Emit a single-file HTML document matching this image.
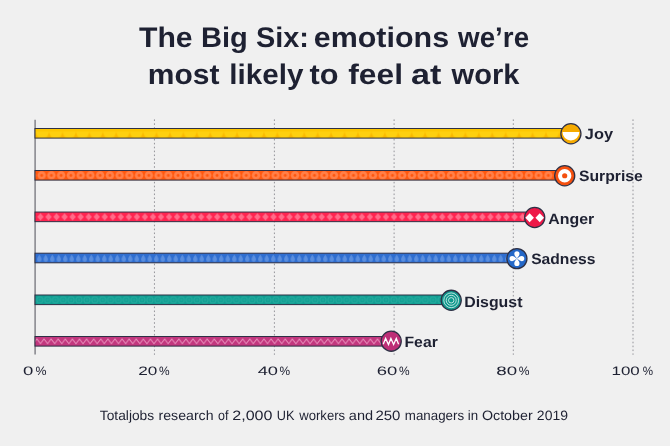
<!DOCTYPE html>
<html lang="en"><head><meta charset="utf-8"><title>The Big Six: emotions we’re most likely to feel at work</title>
<style>html,body{margin:0;padding:0;background:#f0f0f0;}svg{display:block;will-change:transform}text{font-family:"Liberation Sans",sans-serif;text-rendering:geometricPrecision}</style></head><body>
<svg width="670" height="446" viewBox="0 0 670 446">
<rect width="670" height="446" fill="#f0f0f0"/>
<defs>
<pattern id="p0" patternUnits="userSpaceOnUse" x="49.1" y="128.65" width="13.43" height="11"><path d="M0.2 2.7 A6.515 6.515 0 0 0 13.23 2.7 Z" fill="#ffd313" opacity="0.75"/><path d="M0 3.2 Q0.8 8 3.3 9.6 L0 9.6 Z" fill="#f5aa00" opacity="0.5"/><path d="M13.43 3.2 Q12.63 8 10.13 9.6 L13.43 9.6 Z" fill="#f5aa00" opacity="0.5"/></pattern>
<pattern id="p1" patternUnits="userSpaceOnUse" x="36.798" y="170" width="9.744" height="10.6"><circle cx="4.872" cy="5.3" r="4.2" fill="#ff8049"/><circle cx="4.872" cy="5.3" r="1.45" fill="#ff560c"/></pattern>
<pattern id="p2" patternUnits="userSpaceOnUse" x="36.462" y="211.6" width="8.035" height="10.6"><path d="M4.018 1.6 L7.218 5.25 L4.018 8.9 L0.817 5.25 Z" fill="#ff6c89"/></pattern>
<pattern id="p3" patternUnits="userSpaceOnUse" x="36.030" y="253.1" width="6.5" height="10.6"><path d="M3.25 1.5 C4.1 3.3 5.484999999999999 4.7 5.484999999999999 6.4 A2.235 2.235 0 0 1 1.0150000000000001 6.4 C1.0150000000000001 4.7 2.4 3.3 3.25 1.5 Z" fill="#5a8ede"/></pattern>
<pattern id="p4" patternUnits="userSpaceOnUse" x="35.795" y="294.7" width="7.87" height="10.6"><circle cx="3.935" cy="5.2" r="3.0" fill="none" stroke="#27ab9f" stroke-width="1.1"/><circle cx="3.935" cy="5.2" r="1.0" fill="none" stroke="#27ab9f" stroke-width="0.7"/></pattern>
<pattern id="p5" patternUnits="userSpaceOnUse" x="36.93" y="336.2" width="7.095" height="10.6"><path d="M-0.2 2.55 L3.547 7.4 L7.295 2.55" fill="none" stroke="#e88fbc" stroke-width="0.9"/></pattern>
</defs>
<line x1="154.45" y1="119.4" x2="154.45" y2="354.8" stroke="#94949a" stroke-width="1" stroke-dasharray="1.6 2.3"/>
<line x1="274.40" y1="119.4" x2="274.40" y2="354.8" stroke="#94949a" stroke-width="1" stroke-dasharray="1.6 2.3"/>
<line x1="394.10" y1="119.4" x2="394.10" y2="354.8" stroke="#94949a" stroke-width="1" stroke-dasharray="1.6 2.3"/>
<line x1="513.30" y1="119.4" x2="513.30" y2="354.8" stroke="#94949a" stroke-width="1" stroke-dasharray="1.6 2.3"/>
<line x1="633.00" y1="119.4" x2="633.00" y2="354.8" stroke="#94949a" stroke-width="1" stroke-dasharray="1.6 2.3"/>
<line x1="35.1" y1="119.8" x2="35.1" y2="354.6" stroke="#7c7c83" stroke-width="1.4"/>
<rect x="35" y="128.50" width="535.90" height="9.6" fill="#fdc702"/>
<rect x="35" y="128.50" width="535.90" height="9.6" fill="url(#p0)"/>
<rect x="35" y="128.50" width="535.90" height="9.6" fill="none" stroke="#2e3045" stroke-width="1"/>
<circle cx="570.9" cy="133.75" r="10.05" fill="#f6ab00" stroke="#2e3045" stroke-width="1.3"/>
<rect x="35" y="170.50" width="529.70" height="9.6" fill="#ff580e"/>
<rect x="35" y="170.50" width="529.70" height="9.6" fill="url(#p1)"/>
<rect x="35" y="170.50" width="529.70" height="9.6" fill="none" stroke="#2e3045" stroke-width="1"/>
<circle cx="564.7" cy="175.75" r="10.05" fill="#f4500f" stroke="#2e3045" stroke-width="1.3"/>
<rect x="35" y="212.05" width="499.70" height="9.6" fill="#ff2450"/>
<rect x="35" y="212.05" width="499.70" height="9.6" fill="url(#p2)"/>
<rect x="35" y="212.05" width="499.70" height="9.6" fill="none" stroke="#2e3045" stroke-width="1"/>
<circle cx="534.7" cy="217.50" r="10.05" fill="#ee1848" stroke="#2e3045" stroke-width="1.3"/>
<rect x="35" y="253.20" width="481.90" height="9.6" fill="#2f6ed0"/>
<rect x="35" y="253.20" width="481.90" height="9.6" fill="url(#p3)"/>
<rect x="35" y="253.20" width="481.90" height="9.6" fill="none" stroke="#2e3045" stroke-width="1"/>
<circle cx="516.9" cy="258.60" r="10.05" fill="#2468c8" stroke="#2e3045" stroke-width="1.3"/>
<rect x="35" y="295.00" width="416.20" height="9.6" fill="#0f9e92"/>
<rect x="35" y="295.00" width="416.20" height="9.6" fill="url(#p4)"/>
<rect x="35" y="295.00" width="416.20" height="9.6" fill="none" stroke="#2e3045" stroke-width="1"/>
<circle cx="451.2" cy="300.30" r="10.05" fill="#0e988c" stroke="#2e3045" stroke-width="1.3"/>
<rect x="35" y="336.50" width="356.20" height="9.6" fill="#c2377e"/>
<rect x="35" y="336.50" width="356.20" height="9.6" fill="url(#p5)"/>
<rect x="35" y="336.50" width="356.20" height="9.6" fill="none" stroke="#2e3045" stroke-width="1"/>
<circle cx="391.2" cy="341.20" r="10.05" fill="#bd2f77" stroke="#2e3045" stroke-width="1.3"/>
<path d="M562.50 132.05 A8.4 8.4 0 0 0 579.30 132.05 Z" fill="#fff"/>
<circle cx="564.7" cy="175.75" r="4.65" fill="none" stroke="#fff" stroke-width="4.1"/>
<path d="M529.65 213.20 L533.95 217.70 L529.65 222.20 L525.35 217.70 Z" fill="#fff"/>
<path d="M539.75 213.20 L544.05 217.70 L539.75 222.20 L535.45 217.70 Z" fill="#fff"/>
<path transform="translate(516.9 258.60) rotate(0)" d="M0 0 C-1.2 -2 -2.6 -3 -2.6 -4.8 A2.6 2.6 0 0 1 2.6 -4.8 C2.6 -3 1.2 -2 0 0 Z" fill="#fff"/>
<path transform="translate(516.9 258.60) rotate(90)" d="M0 0 C-1.2 -2 -2.6 -3 -2.6 -4.8 A2.6 2.6 0 0 1 2.6 -4.8 C2.6 -3 1.2 -2 0 0 Z" fill="#fff"/>
<path transform="translate(516.9 258.60) rotate(180)" d="M0 0 C-1.2 -2 -2.6 -3 -2.6 -4.8 A2.6 2.6 0 0 1 2.6 -4.8 C2.6 -3 1.2 -2 0 0 Z" fill="#fff"/>
<path transform="translate(516.9 258.60) rotate(270)" d="M0 0 C-1.2 -2 -2.6 -3 -2.6 -4.8 A2.6 2.6 0 0 1 2.6 -4.8 C2.6 -3 1.2 -2 0 0 Z" fill="#fff"/>
<circle cx="451.2" cy="300.30" r="7.4" fill="none" stroke="#fff" stroke-width="0.75" opacity="0.95"/>
<circle cx="451.2" cy="300.30" r="5.0" fill="none" stroke="#fff" stroke-width="0.75" opacity="0.95"/>
<circle cx="451.2" cy="300.30" r="2.7" fill="none" stroke="#fff" stroke-width="0.75" opacity="0.95"/>
<path d="M383.20 344.30 L385.60 338.40 L388.50 344.50 L390.90 338.40 L393.60 344.50 L396.30 338.40 L398.60 344.30" fill="none" stroke="#fff" stroke-width="1.3" stroke-linejoin="miter"/>
<text y="46.8" font-size="28.4" font-weight="bold" fill="#1e2132"><tspan x="138.98" textLength="53.69" lengthAdjust="spacingAndGlyphs">The</tspan> <tspan x="200.99" textLength="46.82" lengthAdjust="spacingAndGlyphs">Big</tspan> <tspan x="255.98" textLength="52.96" lengthAdjust="spacingAndGlyphs">Six:</tspan> <tspan x="313.75" textLength="135.35" lengthAdjust="spacingAndGlyphs">emotions</tspan> <tspan x="458.08" textLength="71.02" lengthAdjust="spacingAndGlyphs">we’re</tspan></text>
<text y="84.3" font-size="28.4" font-weight="bold" fill="#1e2132"><tspan x="147.71" textLength="71.7" lengthAdjust="spacingAndGlyphs">most</tspan> <tspan x="229.32" textLength="74.27" lengthAdjust="spacingAndGlyphs">likely</tspan> <tspan x="309.44" textLength="28.97" lengthAdjust="spacingAndGlyphs">to</tspan> <tspan x="348.17" textLength="54.81" lengthAdjust="spacingAndGlyphs">feel</tspan> <tspan x="411.02" textLength="30.35" lengthAdjust="spacingAndGlyphs">at</tspan> <tspan x="451.57" textLength="67.79" lengthAdjust="spacingAndGlyphs">work</tspan></text>
<text y="138.6" font-size="15" font-weight="bold" fill="#1e2132"><tspan x="584.84" textLength="28.18" lengthAdjust="spacingAndGlyphs">Joy</tspan></text>
<text y="181.2" font-size="15" font-weight="bold" fill="#1e2132"><tspan x="578.9" textLength="63.91" lengthAdjust="spacingAndGlyphs">Surprise</tspan></text>
<text y="224.3" font-size="15" font-weight="bold" fill="#1e2132"><tspan x="548.22" textLength="46.02" lengthAdjust="spacingAndGlyphs">Anger</tspan></text>
<text y="263.5" font-size="15" font-weight="bold" fill="#1e2132"><tspan x="531.18" textLength="64.29" lengthAdjust="spacingAndGlyphs">Sadness</tspan></text>
<text y="306.5" font-size="15" font-weight="bold" fill="#1e2132"><tspan x="464.22" textLength="58.23" lengthAdjust="spacingAndGlyphs">Disgust</tspan></text>
<text y="347.1" font-size="15" font-weight="bold" fill="#1e2132"><tspan x="404.49" textLength="33.31" lengthAdjust="spacingAndGlyphs">Fear</tspan></text>
<text y="375.0" font-size="12.2" fill="#1e2132"><tspan x="23.0" textLength="10.34" lengthAdjust="spacingAndGlyphs">0</tspan><tspan x="35.59" textLength="11.0" lengthAdjust="spacingAndGlyphs">%</tspan></text>
<text y="375.0" font-size="12.2" fill="#1e2132"><tspan x="138.25" textLength="19.12" lengthAdjust="spacingAndGlyphs">20</tspan><tspan x="159.12" textLength="10.61" lengthAdjust="spacingAndGlyphs">%</tspan></text>
<text y="375.0" font-size="12.2" fill="#1e2132"><tspan x="257.7" textLength="20.36" lengthAdjust="spacingAndGlyphs">40</tspan><tspan x="279.56" textLength="10.61" lengthAdjust="spacingAndGlyphs">%</tspan></text>
<text y="375.0" font-size="12.2" fill="#1e2132"><tspan x="376.73" textLength="20.57" lengthAdjust="spacingAndGlyphs">60</tspan><tspan x="399.12" textLength="10.61" lengthAdjust="spacingAndGlyphs">%</tspan></text>
<text y="375.0" font-size="12.2" fill="#1e2132"><tspan x="496.29" textLength="20.83" lengthAdjust="spacingAndGlyphs">80</tspan><tspan x="518.81" textLength="10.74" lengthAdjust="spacingAndGlyphs">%</tspan></text>
<text y="375.0" font-size="12.2" fill="#1e2132"><tspan x="611.49" textLength="28.28" lengthAdjust="spacingAndGlyphs">100</tspan><tspan x="642.73" textLength="10.31" lengthAdjust="spacingAndGlyphs">%</tspan></text>
<text y="419.8" font-size="13.6" fill="#1e2132"><tspan x="99.84" textLength="54.29" lengthAdjust="spacingAndGlyphs">Totaljobs</tspan> <tspan x="158.56" textLength="54.96" lengthAdjust="spacingAndGlyphs">research</tspan> <tspan x="218.0" textLength="10.41" lengthAdjust="spacingAndGlyphs">of</tspan> <tspan x="232.25" textLength="40.24" lengthAdjust="spacingAndGlyphs">2,000</tspan> <tspan x="276.85" textLength="17.7" lengthAdjust="spacingAndGlyphs">UK</tspan> <tspan x="299.25" textLength="45.82" lengthAdjust="spacingAndGlyphs">workers</tspan> <tspan x="348.84" textLength="24.24" lengthAdjust="spacingAndGlyphs">and</tspan> <tspan x="375.42" textLength="25.01" lengthAdjust="spacingAndGlyphs">250</tspan> <tspan x="404.83" textLength="59.25" lengthAdjust="spacingAndGlyphs">managers</tspan> <tspan x="467.75" textLength="10.36" lengthAdjust="spacingAndGlyphs">in</tspan> <tspan x="481.95" textLength="50.73" lengthAdjust="spacingAndGlyphs">October</tspan> <tspan x="536.85" textLength="31.15" lengthAdjust="spacingAndGlyphs">2019</tspan></text>
</svg></body></html>
